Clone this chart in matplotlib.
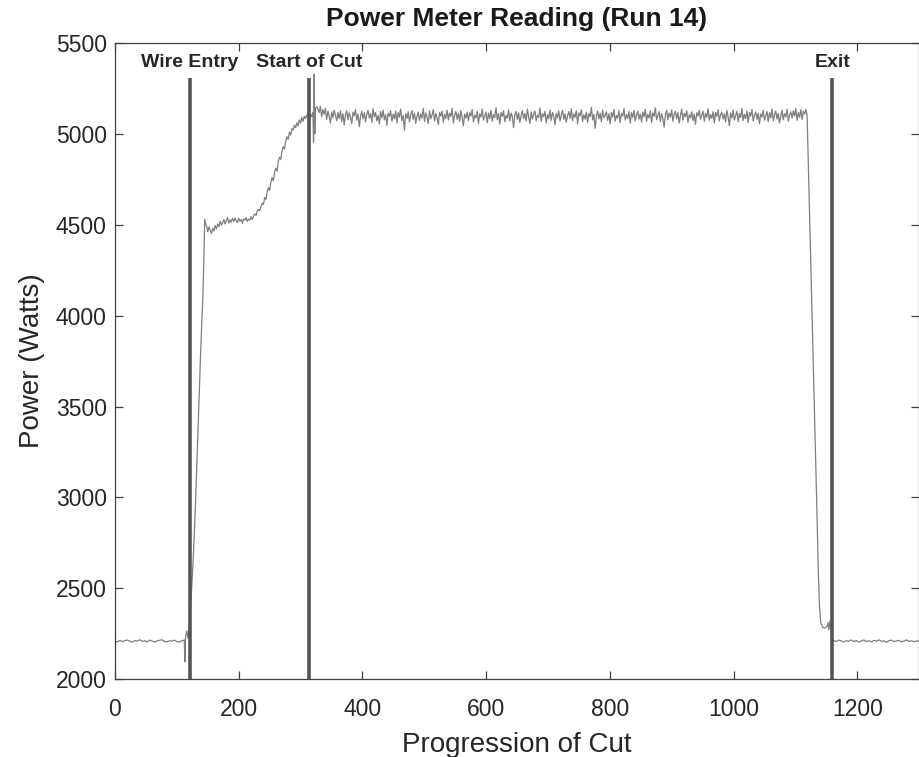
import numpy as np
import matplotlib
matplotlib.use("Agg")
import matplotlib.pyplot as plt

plt.rcParams['font.family'] = ['Liberation Sans', 'DejaVu Sans']

# ---------------- data ----------------
base_vals = [2210, 2204, 2213, 2206, 2211, 2215, 2208, 2203, 2212, 2209, 2216, 2207, 2211, 2205,
             2214, 2209, 2202, 2210, 2213, 2216, 2207, 2204, 2211, 2208, 2214, 2206, 2203, 2211]

entry_x = [110, 112, 113, 114, 116, 118, 120, 122, 124, 127, 130, 133, 136, 139, 142, 144, 145, 147]
entry_y = [2212, 2215, 2095, 2230, 2265, 2225, 2280, 2400, 2500, 2700, 2950, 3250, 3550, 3850,
           4100, 4350, 4530, 4500]

ramp_vals = [4495, 4462, 4488, 4470, 4452, 4480, 4466, 4495, 4478, 4505, 4490, 4520, 4498, 4512,
             4530, 4505, 4522, 4540, 4510, 4528, 4515, 4535,
             4518, 4538, 4522, 4512, 4536, 4520, 4530, 4508, 4533, 4525, 4540, 4518, 4532, 4526,
             4545, 4530, 4548, 4560, 4552, 4575,
             4585, 4578, 4600, 4620, 4612, 4650, 4640, 4680, 4705, 4690, 4735, 4760, 4742, 4790,
             4812, 4795, 4850, 4872, 4860, 4905,
             4930, 4918, 4960, 4985, 4970, 5010, 4995, 5030, 5022, 5048, 5035, 5062, 5045, 5078,
             5060, 5090, 5070, 5098, 5085, 5105]

cut_x = [312, 314, 316, 318, 320, 321, 322, 323, 324, 326]
cut_y = [5100, 5085, 5110, 5095, 5120, 4955, 5330, 5000, 5140, 5150]

steady_vals = [
    5140, 5118, 5152, 5096, 5135, 5108, 5142, 5080, 5126, 5098, 5060, 5122, 5090, 5131, 5104, 5072, 5118, 5085, 5127, 5068,
    5112, 5050, 5104, 5128, 5079, 5116, 5092, 5058, 5120, 5100, 5134, 5076, 5110, 5040, 5098, 5125, 5083, 5117, 5066, 5108,
    5130, 5088, 5112, 5064, 5139, 5095, 5118, 5072, 5103, 5056, 5124, 5090, 5132, 5078, 5106, 5048, 5115, 5097, 5128, 5070,
    5109, 5083, 5126, 5061, 5118, 5093, 5137, 5074, 5101, 5020, 5112, 5086, 5123, 5067, 5104, 5130, 5081, 5114, 5059, 5097,
    5121, 5075, 5110, 5088, 5141, 5069, 5116, 5094, 5058, 5127, 5083, 5105, 5134, 5071, 5112, 5090, 5052, 5119, 5098, 5126,
    5064, 5108, 5085, 5131, 5077, 5115, 5096, 5142, 5060, 5102, 5124, 5081, 5113, 5069, 5129, 5092, 5045, 5110, 5087, 5120,
    5073, 5117, 5099, 5135, 5066, 5104, 5088, 5125, 5058, 5111, 5093, 5138, 5076, 5100, 5121, 5062, 5114, 5084, 5130, 5070,
    5106, 5091, 5146, 5078, 5112, 5054, 5119, 5097, 5128, 5067, 5103, 5087, 5132, 5072, 5115, 5095, 5035, 5108, 5124, 5080,
    5117, 5063, 5101, 5129, 5086, 5113, 5070, 5137, 5094, 5058, 5120, 5082, 5109, 5126, 5074, 5104, 5091, 5143, 5068, 5111,
    5096, 5125, 5061, 5107, 5084, 5133, 5075, 5118, 5099, 5050, 5114, 5088, 5127, 5071, 5105, 5130, 5080, 5112, 5065, 5101,
    5123, 5086, 5139, 5073, 5110, 5092, 5128, 5057, 5116, 5100, 5134, 5069, 5106, 5081, 5121, 5062, 5113, 5095, 5148, 5077,
    5108, 5031, 5099, 5126, 5083, 5115, 5067, 5132, 5090, 5104, 5122, 5074, 5111, 5056, 5119, 5093, 5136, 5070, 5102, 5087,
    5129, 5063, 5114, 5098, 5140, 5076, 5107, 5085, 5124, 5059, 5117, 5091, 5131, 5072, 5103, 5126, 5082, 5110, 5066, 5121,
    5094, 5135, 5071, 5108, 5088, 5127, 5062, 5116, 5097, 5144, 5078, 5101, 5123, 5068, 5112, 5086, 5038, 5105, 5130, 5079,
    5115, 5092, 5133, 5070, 5109, 5125, 5084, 5118, 5060, 5102, 5137, 5076, 5113, 5095, 5128, 5064, 5106, 5089, 5122, 5073,
    5110, 5053, 5117, 5099, 5131, 5081, 5104, 5126, 5069, 5114, 5092, 5139, 5075, 5107, 5086, 5123, 5061, 5118, 5097, 5134,
    5072, 5105, 5120, 5083, 5111, 5066, 5129, 5094, 5046, 5116, 5088, 5132, 5077, 5102, 5125, 5068, 5113, 5091, 5141, 5074,
    5108, 5085, 5127, 5063, 5119, 5098, 5135, 5071, 5104, 5122, 5080, 5115, 5057, 5110, 5093, 5130, 5076, 5101, 5124, 5067,
    5117, 5089, 5138, 5072, 5106, 5126, 5082, 5113, 5060, 5099, 5131, 5078, 5112, 5094, 5137, 5070, 5105, 5121, 5086, 5128,
    5098, 5140, 5075, 5118, 5092, 5134, 5081, 5125, 5110, 5136]

exit_x = [1119, 1123, 1127, 1131, 1135, 1137, 1139, 1141, 1144, 1148, 1151, 1153, 1154, 1156, 1158, 1160]
exit_y = [5100, 4550, 4000, 3450, 2900, 2600, 2400, 2310, 2285, 2280, 2290, 2310, 2270, 2320, 2250, 2215]

tail_vals = [2212, 2206, 2214, 2210, 2204, 2211, 2208, 2215, 2206, 2212, 2203, 2210, 2215, 2207,
             2211, 2204, 2213, 2208, 2216, 2207, 2210, 2202, 2211, 2214, 2206, 2210, 2213, 2205,
             2209, 2215, 2207, 2211, 2205, 2210, 2208]

event_x = [121, 314, 1160]
event_labels = ["Wire Entry", "Start of Cut", "Exit"]

x_ticks = [0, 200, 400, 600, 800, 1000, 1200]
y_ticks = [2000, 2500, 3000, 3500, 4000, 4500, 5000, 5500]

# sample grids for each segment
base_x = np.linspace(0, 108, len(base_vals))
ramp_x = np.linspace(148, 310, len(ramp_vals))
steady_x = np.linspace(328, 1117, len(steady_vals))
tail_x = np.linspace(1162, 1300, len(tail_vals))

x = np.concatenate([base_x, entry_x, ramp_x, cut_x, steady_x, exit_x, tail_x])
y = np.concatenate([base_vals, entry_y, ramp_vals, cut_y, steady_vals, exit_y, tail_vals])

# ---------------- figure ----------------
fig = plt.figure(figsize=(9.2, 7.57), dpi=100)
ax = fig.add_axes([0.125, 0.103, 0.874, 0.840])

ax.plot(x, y, color='#7f7f7f', linewidth=0.9, zorder=2)

for ex, lab in zip(event_x, event_labels):
    ax.plot([ex, ex], [2000, 5310], color='#555555', linewidth=2.6, zorder=3, solid_capstyle='butt')
    ax.text(ex, 5395, lab, ha='center', va='center', fontsize=14, fontweight='bold', color='#262626')

ax.set_xlim(0, 1300)
ax.set_ylim(2000, 5500)
ax.set_xticks(x_ticks)
ax.set_yticks(y_ticks)
ax.tick_params(direction='in', length=6, width=0.9, colors='#404040', labelsize=16.5,
               top=True, right=True, labelcolor='#262626')
ax.tick_params(axis='x', pad=13.5)
ax.tick_params(axis='y', pad=6)
for s in ax.spines.values():
    s.set_color('#404040')
    s.set_linewidth(0.9)

ax.set_xlabel("Progression of Cut", fontsize=20, color='#262626', labelpad=8)
ax.set_ylabel("Power (Watts)", fontsize=20, color='#262626', labelpad=8)
ax.set_title("Power Meter Reading (Run 14)", fontsize=19, fontweight='bold', color='#1a1a1a', pad=12)

fig.savefig("out.png", dpi=100)
